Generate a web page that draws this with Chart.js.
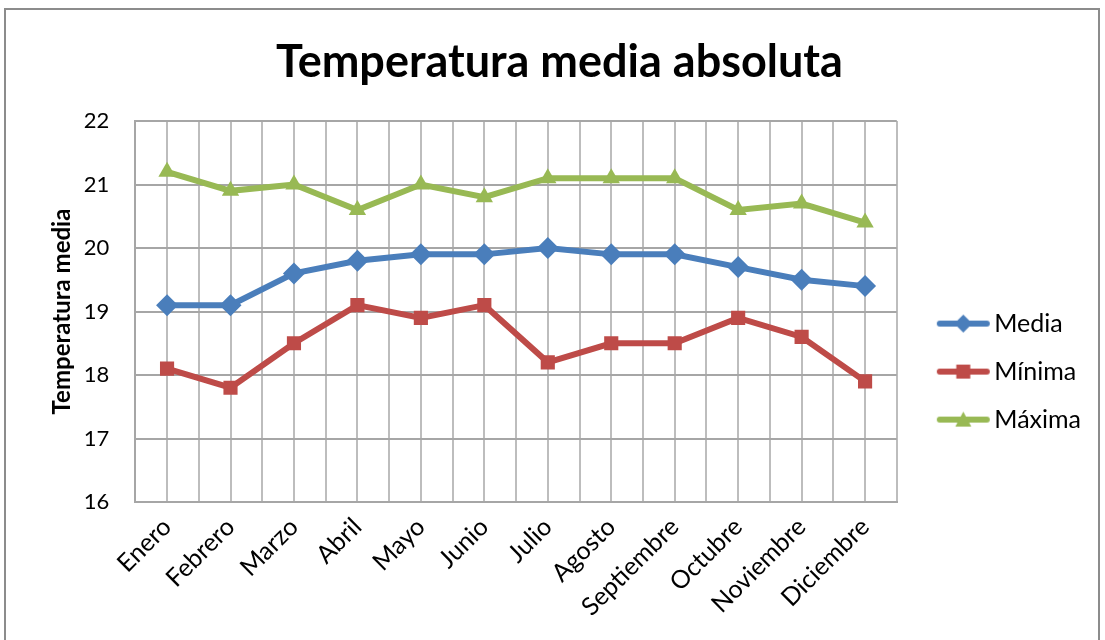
<!DOCTYPE html>
<html>
<head>
<meta charset="utf-8">
<script src="https://cdn.jsdelivr.net/npm/chart.js@4.4.0/dist/chart.umd.min.js"></script>
<style>
  html, body { margin: 0; padding: 0; background: #fff; }
  #wrap {
    position: absolute; left: 4px; top: 8px; width: 1096px; height: 640px;
    border: 2px solid #8c8c8c; box-sizing: border-box; background: #fff;
  }
</style>
</head>
<body>
<div id="wrap"><canvas id="tempChart"></canvas></div>
<script>
const months = ["Enero", "Febrero", "Marzo", "Abril", "Mayo", "Junio", "Julio",
  "Agosto", "Septiembre", "Octubre", "Noviembre", "Diciembre"];
const media = [19.1, 19.1, 19.6, 19.8, 19.9, 19.9, 20.0, 19.9, 19.9, 19.7, 19.5, 19.4];
const minima = [18.1, 17.8, 18.5, 19.1, 18.9, 19.1, 18.2, 18.5, 18.5, 18.9, 18.6, 17.9];
const maxima = [21.2, 20.9, 21.0, 20.6, 21.0, 20.8, 21.1, 21.1, 21.1, 20.6, 20.7, 20.4];
const yTicks = [16, 17, 18, 19, 20, 21, 22];

const FONT = "Lato, 'Open Sans', sans-serif";

// little line+marker swatch for the legend, Excel style
// (drawn right of the image centre so it sits close to the text)
function swatch(color, style) {
  const c = document.createElement("canvas");
  c.width = 100; c.height = 24;
  const g = c.getContext("2d");
  const cx = 62.5;
  g.strokeStyle = color; g.lineWidth = 6; g.lineCap = "round";
  g.beginPath(); g.moveTo(39, 12); g.lineTo(86, 12); g.stroke();
  g.fillStyle = color;
  g.beginPath();
  if (style === "rectRot") {
    g.moveTo(cx, 3); g.lineTo(cx + 9, 12); g.lineTo(cx, 21); g.lineTo(cx - 9, 12);
  } else if (style === "rect") {
    g.rect(cx - 7, 5, 14, 14);
  } else {
    g.moveTo(cx, 4); g.lineTo(cx + 8, 19); g.lineTo(cx - 8, 19);
  }
  g.closePath(); g.fill();
  return c;
}

const series = [
  { label: "Media", data: media, color: "#4a7ebb", style: "rectRot", r: 11 },
  { label: "Mínima", data: minima, color: "#be4b48", style: "rect", r: 10 },
  { label: "Máxima", data: maxima, color: "#98b954", style: "triangle", r: 10 },
];

new Chart(document.getElementById("tempChart"), {
  type: "line",
  data: {
    labels: months,
    datasets: series.map((s) => ({
      label: s.label,
      data: s.data,
      borderColor: s.color,
      backgroundColor: s.color,
      borderWidth: 6,
      pointStyle: s.style,
      pointRadius: s.r,
      pointBorderWidth: 0,
      tension: 0,
      xAxisID: "x",
    })),
  },
  options: {
    responsive: true,
    maintainAspectRatio: false,
    animation: false,
    layout: { padding: { left: 22, right: 7, top: 8, bottom: 14 } },
    plugins: {
      title: {
        display: true,
        text: "Temperatura media absoluta",
        color: "#000",
        font: { family: FONT, size: 45, weight: "bold" },
        padding: { top: 17, bottom: 32 },
      },
      legend: {
        position: "right",
        align: "center",
        title: { display: true, text: " ", font: { size: 1 }, padding: { top: 0, bottom: 92 } },
        labels: {
          color: "#000",
          font: { family: FONT, size: 25 },
          usePointStyle: true,
          pointStyleWidth: 62,
          padding: 23,
          generateLabels: (chart) =>
            series.map((s, i) => ({
              text: s.label,
              pointStyle: swatch(s.color, s.style),
              fillStyle: s.color,
              strokeStyle: s.color,
              fontColor: "#000",
              lineWidth: 0,
              datasetIndex: i,
            })),
        },
      },
      tooltip: { enabled: false },
    },
    scales: {
      x: {
        type: "category",
        offset: true,
        grid: { offset: false, color: "#bdbdbd", lineWidth: 2, drawTicks: false },
        border: { color: "#a6a6a6", width: 2 },
        ticks: {
          color: "#000",
          font: { family: FONT, size: 25 },
          minRotation: 45,
          maxRotation: 45,
          padding: 10,
        },
      },
      x2: {
        type: "category",
        labels: months,
        offset: true,
        position: "bottom",
        grid: { offset: true, color: "#bdbdbd", lineWidth: 2, drawTicks: false },
        border: { display: false },
        ticks: { display: false },
      },
      y: {
        min: 16,
        max: 22,
        afterBuildTicks: (axis) => { axis.ticks = yTicks.map((v) => ({ value: v })); },
        grid: { color: "#a6a6a6", lineWidth: 2, drawTicks: false },
        border: { color: "#a6a6a6", width: 2 },
        ticks: {
          color: "#000",
          font: { family: FONT, size: 22 },
          padding: 26,
        },
        title: {
          display: true,
          text: "Temperatura media",
          color: "#000",
          font: { family: FONT, size: 24, weight: "bold" },
          padding: { top: 20, bottom: -19 },
        },
      },
    },
  },
});
</script>
</body>
</html>
